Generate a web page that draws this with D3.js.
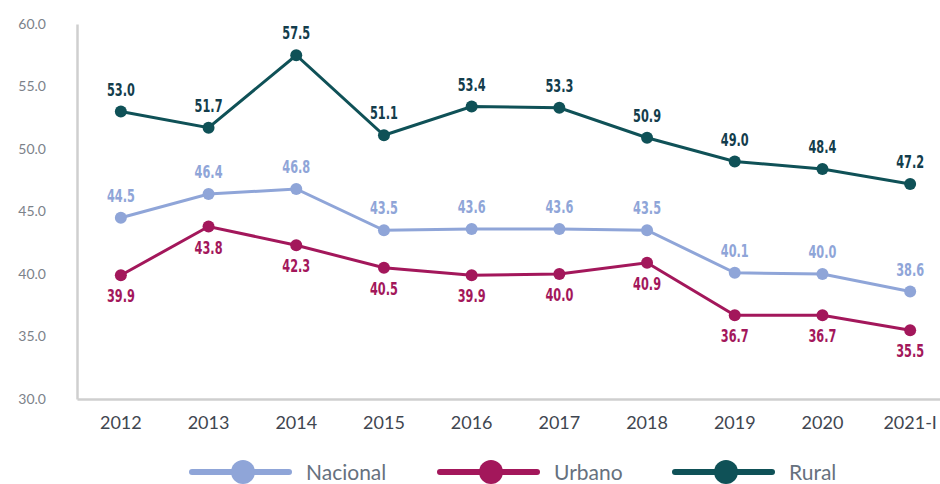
<!DOCTYPE html>
<html><head><meta charset="utf-8">
<script src="https://cdn.jsdelivr.net/npm/d3@7"></script>
<style>body{margin:0;background:#fff}svg{display:block}</style>
</head><body><svg id="c" width="940" height="484"></svg>
<script>
const years = ["2012","2013","2014","2015","2016","2017","2018","2019","2020","2021-I"];
const nacional = [44.5,46.4,46.8,43.5,43.6,43.6,43.5,40.1,40.0,38.6];
const urbano   = [39.9,43.8,42.3,40.5,39.9,40.0,40.9,36.7,36.7,35.5];
const rural    = [53.0,51.7,57.5,51.1,53.4,53.3,50.9,49.0,48.4,47.2];
const yTicks = [30,35,40,45,50,55,60];

const series = [
  {name:"Nacional", values:nacional, color:"#8fa5d8", label:"#8fa5d8", pos:"above"},
  {name:"Urbano", values:urbano, color:"#a3175b", label:"#a3175b", pos:"below"},
  {name:"Rural", values:rural, color:"#0f5157", label:"#133d4c", pos:"above"}
];

const svg = d3.select("#c");
const x = d3.scaleBand().domain(years).range([77, 954]);
const y = d3.scaleLinear().domain([30,60]).range([399,24]);
const cx = d => x(d) + x.bandwidth()/2;

// axes
const yAxis = svg.append("g").attr("transform","translate(77,0)")
  .call(d3.axisLeft(y).tickValues(yTicks).tickFormat(d3.format(".1f")).tickSize(0).tickPadding(31));
yAxis.select(".domain").attr("stroke","#cfcfcf").attr("stroke-width",2.5);
yAxis.selectAll("text").attr("font-family","Lato, 'Open Sans', sans-serif").attr("font-size",14).attr("fill","#7c828a");

const xAxis = svg.append("g").attr("transform","translate(0,399)")
  .call(d3.axisBottom(x).tickSize(0).tickPadding(17));
xAxis.select(".domain").attr("stroke","#cfcfcf").attr("stroke-width",2.5);
xAxis.selectAll("text").attr("font-family","Lato, 'Open Sans', sans-serif").attr("font-size",18).attr("fill","#3f4650");

const line = d3.line().x((d,i)=>cx(years[i])).y(d=>y(d));

series.forEach(s=>{
  const g = svg.append("g");
  g.append("path").datum(s.values).attr("d",line).attr("fill","none")
    .attr("stroke",s.color).attr("stroke-width",3);
  g.selectAll("circle").data(s.values).join("circle")
    .attr("cx",(d,i)=>cx(years[i])).attr("cy",d=>y(d)).attr("r",6).attr("fill",s.color);
  g.selectAll("text").data(s.values).join("text")
    .attr("transform",(d,i)=>`translate(${cx(years[i])},${s.pos==="above" ? y(d)-16 : y(d)+27}) scale(0.9,1.2)`)
    .attr("text-anchor","middle")
    .attr("font-family","'DejaVu Sans Condensed', 'Liberation Sans Narrow', sans-serif")
    .attr("font-weight","bold").attr("font-size",14)
    .attr("fill",s.label)
    .text(d=>d3.format(".1f")(d));
});

// legend
const legendX = [192, 440, 675];
series.forEach((s,i)=>{
  const g = svg.append("g").attr("transform",`translate(${legendX[i]},472)`);
  g.append("line").attr("x1",0).attr("x2",97).attr("y1",0).attr("y2",0)
    .attr("stroke",s.color).attr("stroke-width",6).attr("stroke-linecap","round");
  g.append("circle").attr("cx",51).attr("cy",0).attr("r",12).attr("fill",s.color);
  g.append("text").attr("x",114).attr("y",8).attr("font-family","Lato, 'Open Sans', sans-serif")
    .attr("font-size",21).attr("fill","#66717e").text(s.name);
});
</script></body></html>
